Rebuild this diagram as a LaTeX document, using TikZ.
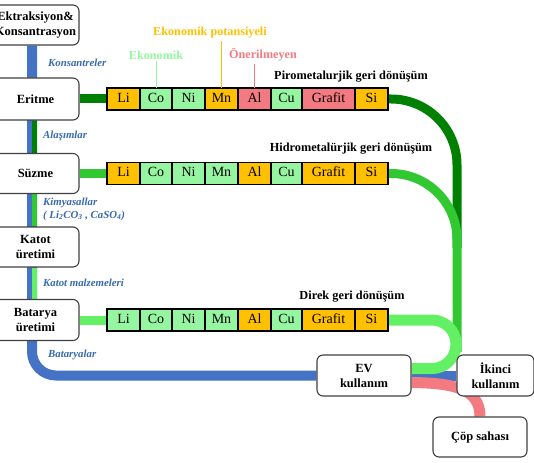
\documentclass[tikz,border=0pt]{standalone}
\usepackage{fontspec}
\setmainfont{Liberation Serif}
\usetikzlibrary{positioning,backgrounds}
\definecolor{orng}{RGB}{255,192,0}
\definecolor{lgrn}{RGB}{150,245,160}
\definecolor{rose}{RGB}{242,122,128}
\definecolor{bline}{RGB}{68,114,196}
\definecolor{gdark}{RGB}{0,128,0}
\definecolor{gmid}{RGB}{50,200,50}
\definecolor{glight}{RGB}{100,240,100}
\definecolor{ltxt}{RGB}{55,105,175}

\begin{document}
\begin{tikzpicture}[x=1pt,y=-1pt,
    stage/.style={draw=black!75,line width=1.1pt,rounded corners=6pt,fill=white,align=center,
      minimum width=87pt,minimum height=40pt,inner sep=1pt,
      font=\fontsize{12.5}{15}\selectfont\bfseries},
    cell/.style={draw=black,line width=1.6pt,outer sep=0pt,minimum height=22pt,inner sep=0pt,
      text height=10pt,text depth=3pt,font=\fontsize{14}{14}\selectfont},
    flow/.style={font=\fontsize{10.8}{13}\selectfont\bfseries\itshape,text=ltxt,anchor=west,inner sep=0pt},
    route/.style={font=\fontsize{12.3}{14}\selectfont\bfseries,inner sep=0pt},
    tag/.style={font=\fontsize{12.2}{14}\selectfont\bfseries,inner sep=2pt}]
  \useasboundingbox (0,0) rectangle (534,462);

  \node[stage] (ext) at (35.5,25) {Ektraksiyon\&\\Konsantrasyon};
  \node[stage,minimum height=42pt] (eritme) at (35.5,99) {Eritme};
  \node[stage] (suzme) at (35.5,173.5) {Süzme};
  \node[stage] (katot) at (35.5,247) {Katot\\üretimi};
  \node[stage,minimum height=41pt] (batarya) at (35.5,320) {Batarya\\üretimi};
  \node[stage,minimum width=94pt,minimum height=41pt] (ev) at (364,375.5) {EV\\kullanım};
  \node[stage,minimum width=77pt,minimum height=41pt] (ikinci) at (495.5,375.5) {İkinci\\kullanım};
  \node[stage,minimum width=94pt] (cop) at (480,437) {Çöp sahası};

  \node[cell,fill=orng,minimum width=33pt] (p1) at (123.5,99) {Li};
  \node[cell,fill=lgrn,minimum width=32pt,right=0pt of p1] (p2) {Co};
  \node[cell,fill=lgrn,minimum width=33pt,right=0pt of p2] (p3) {Ni};
  \node[cell,fill=orng,minimum width=33pt,right=0pt of p3] (p4) {Mn};
  \node[cell,fill=rose,minimum width=33pt,right=0pt of p4] (p5) {Al};
  \node[cell,fill=lgrn,minimum width=31pt,right=0pt of p5] (p6) {Cu};
  \node[cell,fill=rose,minimum width=53pt,right=0pt of p6] (p7) {Grafit};
  \node[cell,fill=orng,minimum width=33pt,right=0pt of p7] (p8) {Si};

  \node[cell,fill=orng,minimum width=33pt] (h1) at (123.5,173.5) {Li};
  \node[cell,fill=lgrn,minimum width=32pt,right=0pt of h1] (h2) {Co};
  \node[cell,fill=lgrn,minimum width=33pt,right=0pt of h2] (h3) {Ni};
  \node[cell,fill=lgrn,minimum width=33pt,right=0pt of h3] (h4) {Mn};
  \node[cell,fill=orng,minimum width=33pt,right=0pt of h4] (h5) {Al};
  \node[cell,fill=lgrn,minimum width=31pt,right=0pt of h5] (h6) {Cu};
  \node[cell,fill=orng,minimum width=53pt,right=0pt of h6] (h7) {Grafit};
  \node[cell,fill=orng,minimum width=33pt,right=0pt of h7] (h8) {Si};

  \node[cell,fill=lgrn,minimum width=33pt] (d1) at (123.5,320) {Li};
  \node[cell,fill=lgrn,minimum width=32pt,right=0pt of d1] (d2) {Co};
  \node[cell,fill=lgrn,minimum width=33pt,right=0pt of d2] (d3) {Ni};
  \node[cell,fill=lgrn,minimum width=33pt,right=0pt of d3] (d4) {Mn};
  \node[cell,fill=orng,minimum width=33pt,right=0pt of d4] (d5) {Al};
  \node[cell,fill=lgrn,minimum width=31pt,right=0pt of d5] (d6) {Cu};
  \node[cell,fill=orng,minimum width=53pt,right=0pt of d6] (d7) {Grafit};
  \node[cell,fill=orng,minimum width=33pt,right=0pt of d7] (d8) {Si};

  \node[tag,text=orng] (epot) at (210,33) {Ekonomik potansiyeli};
  \node[tag,text=lgrn] (eko) at (156,55) {Ekonomik};
  \node[tag,text=rose] (oner) at (263,55) {Önerilmeyen};
  \draw[lgrn,line width=0.8pt] (p2.north) -- (p2.north |- eko.south);
  \draw[orng,line width=0.8pt] (p4.north) -- (p4.north |- epot.south);
  \draw[rose,line width=0.8pt] (p5.north) -- (p5.north |- oner.south);

  \node[route] (piro) at (351,77) {Pirometalurjik geri dönüşüm};
  \node[route] (hidro) at (351,149) {Hidrometalürjik geri dönüşüm};
  \node[route] (direk) at (352,297) {Direk geri dönüşüm};

  \node[flow] (kons) at (48,63) {Konsantreler};
  \node[flow] (alas) at (43,136) {Alaşımlar};
  \node[flow,align=left] (kimya) at (43,209) {Kimyasallar\\( Li\textsubscript{2}CO\textsubscript{3} , CaSO\textsubscript{4})};
  \node[flow] (kmal) at (43,283) {Katot malzemeleri};
  \node[flow] (batlar) at (48,355) {Bataryalar};

  \coordinate (merge) at (457,248);
  \coordinate (joint) at (457,352);
  \begin{scope}[on background layer]
    \draw[bline,line width=10pt,rounded corners=24pt] ([xshift=-3.5pt]ext.south) |- (ev.west);
    \draw[bline,line width=10pt] (ev.east) -- (ikinci.west);
    \draw[gdark,line width=5pt] ([xshift=-1pt]eritme.south) -- ([xshift=-1pt]suzme.north);
    \draw[gmid,line width=5pt] ([xshift=-1pt]suzme.south) -- ([xshift=-1pt]katot.north);
    \draw[glight,line width=5pt] ([xshift=-1pt]katot.south) -- ([xshift=-1pt]batarya.north);
    \draw[gdark,line width=9pt] (eritme.east) -- (p1.west);
    \draw[gmid,line width=9pt] (suzme.east) -- (h1.west);
    \draw[glight,line width=9pt] (batarya.east) -- (d1.west);
    \draw[gdark,line width=9pt,rounded corners=66pt] (p8.east) -| (merge);
    \draw[gmid,line width=9pt,rounded corners=66pt] (h8.east) -| (joint);
    \draw[glight,line width=11pt,rounded corners=24pt] (d8.east) -| (456,368.5) -- ([yshift=7pt]ev.east);
    \draw[rose,line width=11pt] ([yshift=-7pt]ev.east) .. controls (452,383) and (480,388) .. (cop.north);
  \end{scope}
\end{tikzpicture}
\end{document}
